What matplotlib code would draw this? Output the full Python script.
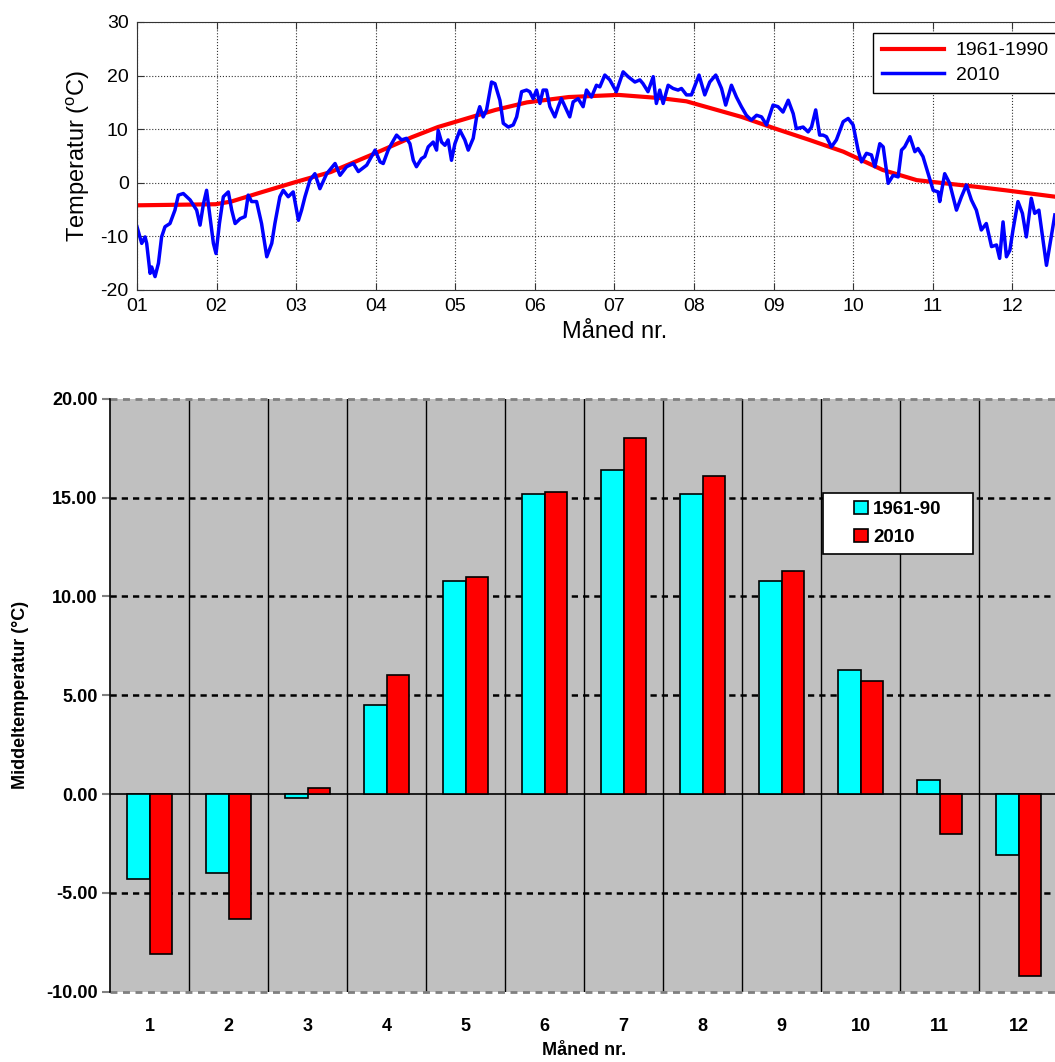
import numpy as np
import matplotlib
matplotlib.use('Agg')
import matplotlib.pyplot as plt
from matplotlib.patches import Rectangle

plt.rcParams['font.family'] = 'Liberation Sans'
plt.rcParams['mathtext.fontset'] = 'custom'
plt.rcParams['mathtext.rm'] = 'Liberation Sans'
plt.rcParams['axes.unicode_minus'] = False

# dognmiddel 2010 (dag i aaret, grader C), lest av figuren
dag_2010 = [0, 1.8, 3.1, 3.7, 5.0, 5.6, 6.9, 8.2, 9.4, 10.7, 12.6, 14.5, 15.8, 17.7, 20.3, 22.8,
            24.1, 25.4, 26.6, 27.9, 29.2, 30.2, 31.5, 33.0, 34.9, 36.2, 37.5, 39.4, 41.3, 42.5,
            43.8, 45.7, 47.6, 49.6, 51.5, 52.7, 54.6, 55.9, 57.8, 59.7, 61.7, 62.9, 64.2, 66.1,
            68.0, 69.9, 72.5, 75.7, 77.6, 80.1, 82.7, 84.6, 87.8, 91.0, 92.9, 94.1, 96.0, 97.3,
            99.2, 101.1, 103.0, 104.3, 105.6, 106.8, 108.7, 110.0, 111.3, 113.2, 114.5, 115.1,
            116.4, 117.7, 118.9, 120.2, 121.5, 123.4, 125.3, 126.6, 128.5, 129.8, 131.0, 132.3,
            133.6, 135.5, 136.8, 138.7, 140.0, 141.9, 143.8, 145.1, 147.0, 148.9, 150.1, 151.4,
            152.7, 154.0, 155.2, 156.5, 157.8, 159.7, 161.0, 162.2, 164.2, 165.4, 166.7, 168.6,
            170.5, 171.8, 173.7, 175.6, 176.9, 178.8, 180.7, 183.2, 185.8, 187.7, 190.3, 192.2,
            193.4, 195.3, 197.3, 198.5, 199.8, 201.1, 203.0, 204.9, 206.8, 208.1, 210.0, 211.9,
            213.8, 214.8, 217.0, 218.9, 221.2, 223.4, 225.0, 227.2, 229.1, 231.0, 232.9, 234.8,
            236.8, 238.7, 240.6, 243.1, 245.0, 246.9, 248.9, 250.8, 252.0, 254.6, 256.5, 257.8,
            259.4, 260.9, 262.2, 263.5, 265.4, 267.3, 269.9, 271.8, 273.7, 275.6, 276.9, 278.8,
            280.7, 282.0, 283.9, 285.2, 287.1, 289.0, 290.9, 292.2, 293.4, 295.4, 297.3, 298.5,
            300.4, 302.4, 304.3, 306.2, 306.8, 308.7, 310.6, 313.2, 315.1, 317.0, 318.9, 320.8,
            322.7, 324.6, 326.6, 328.5, 329.7, 331.0, 332.3, 333.6, 334.8, 336.7, 338.4, 339.9,
            341.8, 343.1, 344.7, 346.3, 347.6, 348.8, 350.8]
temp_2010 = [-8.2, -11.3, -10.1, -11.3, -16.9, -15.7, -17.5, -15.0, -10.1, -8.2, -7.6, -5.1, -2.3,
             -2.0, -3.2, -5.1, -7.9, -3.9, -1.4, -6.3, -11.3, -13.2, -7.6, -2.6, -1.7, -5.1, -7.6,
             -6.7, -6.3, -2.3, -3.5, -3.5, -7.6, -13.8, -11.3, -7.6, -2.6, -1.4, -2.6, -1.7, -7.0,
             -5.1, -2.6, 0.5, 1.7, -1.1, 1.7, 3.6, 1.4, 3.0, 3.6, 2.1, 3.3, 6.1, 3.9, 3.6, 6.1,
             7.3, 8.9, 8.0, 8.3, 7.3, 4.2, 3.0, 4.5, 4.9, 6.7, 7.6, 6.1, 9.8, 7.6, 7.0, 8.0, 4.2,
             7.3, 9.8, 8.0, 6.1, 8.3, 12.3, 14.2, 12.3, 13.6, 18.8, 18.5, 15.4, 11.1, 10.4, 10.8,
             12.3, 17.0, 17.3, 17.0, 15.7, 17.3, 14.8, 17.3, 17.3, 14.2, 12.3, 14.2, 15.7, 13.6,
             12.3, 15.1, 15.7, 14.2, 17.3, 16.0, 18.2, 17.9, 20.1, 19.2, 17.0, 20.7, 19.8, 18.8,
             19.2, 18.5, 17.0, 19.8, 14.8, 17.3, 14.8, 18.2, 17.6, 17.3, 17.6, 16.4, 16.4, 18.8,
             20.1, 16.4, 18.8, 20.1, 17.6, 14.5, 18.2, 16.0, 14.2, 12.6, 11.7, 12.6, 12.3, 10.8,
             14.5, 14.2, 13.2, 15.4, 12.9, 10.1, 10.4, 9.5, 10.4, 13.6, 8.9, 8.9, 8.6, 6.7, 8.0,
             11.4, 12.0, 10.8, 6.1, 3.9, 5.5, 5.2, 3.0, 7.3, 6.7, -0.1, 1.4, 1.1, 6.1, 6.7, 8.6,
             5.8, 6.4, 4.9, 1.7, -1.4, -1.7, -3.5, 1.7, -0.1, -5.1, -2.6, -0.4, -3.2, -5.1, -8.8,
             -7.6, -11.9, -11.6, -14.1, -7.3, -13.8, -12.6, -8.8, -3.5, -5.7, -10.1, -2.9, -5.7,
             -5.1, -10.7, -15.4, -11.9, -6.0]

# normal 1961-1990
dag_norm = [0, 15, 30, 36, 48, 61, 74, 91, 105, 115, 126, 137, 149, 165, 184, 200, 210, 231,
            244, 257, 270, 285, 298, 307, 320, 332, 351, 364]
temp_norm = [-4.2, -4.1, -4.0, -3.5, -1.7, 0.2, 2.0, 5.5, 8.5, 10.4, 12.0, 13.6, 15.0, 16.0,
             16.4, 15.8, 15.2, 12.3, 10.1, 8.0, 5.8, 2.4, 0.5, 0.0, -0.7, -1.4, -2.6, -3.5]

# maanedsmiddel
maaned = [1, 2, 3, 4, 5, 6, 7, 8, 9, 10, 11, 12]
middel_6190 = [-4.3, -4.0, -0.2, 4.5, 10.8, 15.2, 16.4, 15.2, 10.8, 6.3, 0.7, -3.1]
middel_2010 = [-8.1, -6.3, 0.3, 6.0, 11.0, 15.3, 18.0, 16.1, 11.3, 5.7, -2.0, -9.2]

W, H = 1055, 1062
fig = plt.figure(figsize=(W / 100, H / 100), dpi=100)

## Figur 1: daglig temperatur
ax = fig.add_axes([137 / W, (H - 290) / H, 955 / W, 268 / H])
ax.plot(1 + np.array(dag_norm) * 12 / 365, temp_norm, color='red', lw=3, label='1961-1990')
ax.plot(1 + np.array(dag_2010) * 12 / 365, temp_2010, color='blue', lw=2.5, label='2010')
ax.set_xlim(1, 13)
ax.set_ylim(-20, 30)
ax.set_xticks(range(1, 13))
ax.set_xticklabels(['%02d' % m for m in range(1, 13)])
ax.set_yticks([-20, -10, 0, 10, 20, 30])
ax.grid(True, linestyle=':', color='#333333', lw=0.8)
ax.tick_params(direction='in', length=5, labelsize=14, top=True, right=True, pad=6,
               color='#333333')
for s in ax.spines.values():
    s.set_color('#333333')
ax.set_xlabel('Måned nr.', fontsize=17, labelpad=4)
ax.set_ylabel(r'Temperatur ($^{\mathrm{o}}$C)', fontsize=17, labelpad=6)
leg = ax.legend(loc='upper left', bbox_to_anchor=((873 - 137) / 955, (290 - 33) / 268),
                borderaxespad=0, fontsize=14, handlelength=3.2, labelspacing=0.35,
                borderpad=0.45, handletextpad=0.6, fancybox=False, framealpha=1,
                edgecolor='black')
leg.get_frame().set_linewidth(1)

## Figur 2: maanedsmiddel
ax2 = fig.add_axes([110 / W, (H - 991.7) / H, 948 / W, 593 / H])
ax2.set_facecolor('#C0C0C0')
ax2.set_xlim(0.5, 12.5)
ax2.set_ylim(-10, 20)
x = np.array(maaned)
for xv in x[:-1] + 0.5:
    ax2.axvline(xv, color='black', lw=1, zorder=1)
for yv in [-5, 5, 10, 15]:
    ax2.axhline(yv, color='black', lw=1.8, linestyle=(0, (2.5, 2)), zorder=1)
for yv in [-10, 20]:
    ax2.axhline(yv, color='#808080', lw=2, linestyle=(0, (2.5, 2)), zorder=1, clip_on=False)
ax2.axhline(0, color='black', lw=1.2, zorder=2)
ax2.bar(x - 0.1425, middel_6190, 0.285, color='#00FFFF', edgecolor='black', lw=1.2,
        zorder=3, label='1961-90')
ax2.bar(x + 0.1425, middel_2010, 0.285, color='#FF0000', edgecolor='black', lw=1.2,
        zorder=3, label='2010')
for s in ['top', 'right', 'bottom']:
    ax2.spines[s].set_visible(False)
ax2.spines['left'].set_color('black')
ax2.spines['left'].set_linewidth(1.2)
ax2.set_xticks(x)
ax2.set_xticklabels([str(m) for m in maaned], fontweight='bold', fontsize=13)
ax2.tick_params(axis='x', length=0, pad=19)
ax2.set_yticks([-10, -5, 0, 5, 10, 15, 20])
ax2.set_yticklabels(['%.2f' % v for v in [-10, -5, 0, 5, 10, 15, 20]], fontweight='bold',
                    fontsize=13)
ax2.tick_params(axis='y', length=6, width=1.5, color='#808080', pad=3)
ax2.set_xlabel('Måned nr.', fontweight='bold', fontsize=13, labelpad=5)
ax2.set_ylabel('Middeltemperatur (°C)', fontweight='bold', fontsize=13, labelpad=12)

# legendeboks
bx0, bx1, by0, by1 = 823, 973, 493, 554
ax2.add_patch(Rectangle(((bx0 - 110) / 948, (991.7 - by1) / 593), (bx1 - bx0) / 948,
                        (by1 - by0) / 593, transform=ax2.transAxes, facecolor='white',
                        edgecolor='black', lw=1.2, zorder=5))
leg2 = ax2.legend(loc='center', bbox_to_anchor=(((bx0 + bx1) / 2 - 110) / 948,
                                                (991.7 - (by0 + by1) / 2) / 593),
                  frameon=False, prop={'weight': 'bold', 'size': 13.5}, handlelength=0.7,
                  handleheight=0.7, handletextpad=0.3, labelspacing=0.6, borderpad=0)
leg2.set_zorder(6)

fig.savefig('out.png', dpi=100)
